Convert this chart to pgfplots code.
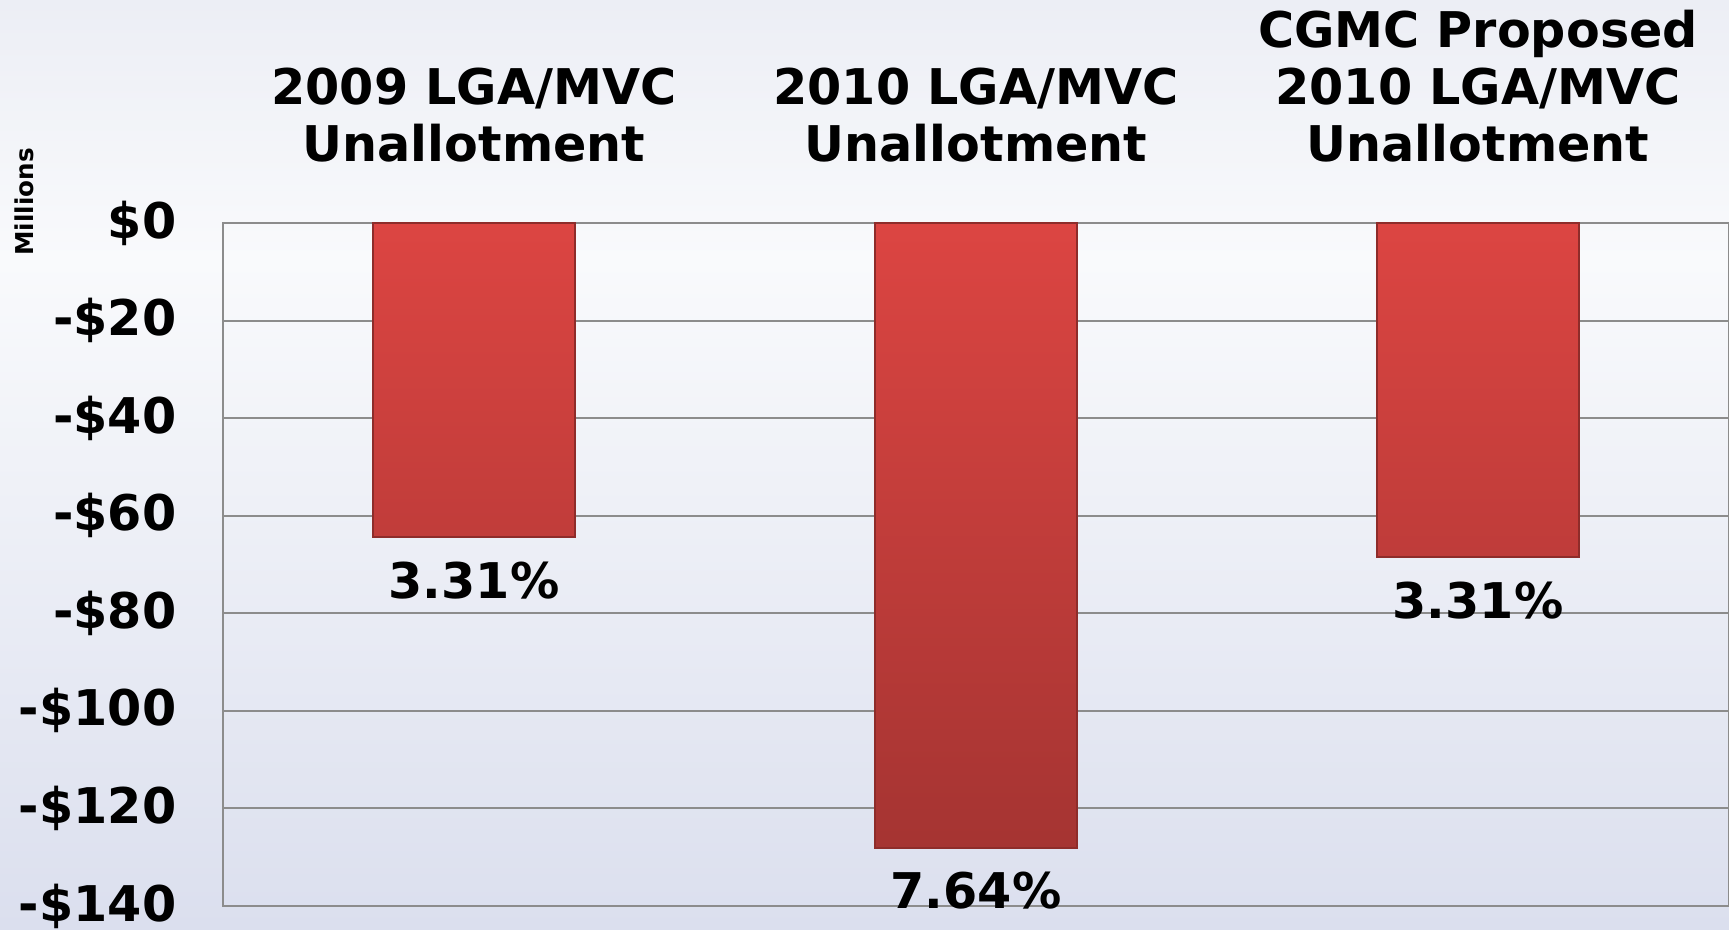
\documentclass[border=0pt]{standalone}
\usepackage{pgfplots}
\pgfplotsset{compat=1.18}
\usepackage{fontspec}
\setmainfont{DejaVu Sans}
\definecolor{bgtop}{HTML}{ECEEF5}
\definecolor{bgmid}{HTML}{F9FAFC}
\definecolor{bgbot}{HTML}{DBDFEE}
\definecolor{bartop}{HTML}{DC4542}
\definecolor{barbot}{HTML}{A53432}
\definecolor{baredge}{HTML}{8E2C2A}
\definecolor{gridgray}{HTML}{8C8C8C}
\pgfdeclareverticalshading{bgshade}{100bp}{color(0bp)=(bgbot); color(25bp)=(bgbot); color(61bp)=(bgmid); color(75bp)=(bgtop); color(100bp)=(bgtop)}
\pgfplotstableread{
x y lab
0 -64.4 3.31\%
1 -128.1 7.64\%
2 -68.5 3.31\%
}\bardata
\begin{document}
\begin{tikzpicture}
\useasboundingbox (0,0) rectangle (172.9mm,92.9mm);
\shade[shading=bgshade] (0,0) rectangle (172.9mm,92.9mm);
\begin{axis}[
  at={(22.3mm,2.3mm)}, anchor=south west,
  scale only axis, width=150.6mm, height=68.3mm,
  xmin=-0.5, xmax=2.5, ymin=-140, ymax=0,
  axis line style={gridgray, line width=0.6pt},
  xtick=\empty,
  ytick={-140,-120,-100,-80,-60,-40,-20,0},
  yticklabels={-\$140,-\$120,-\$100,-\$80,-\$60,-\$40,-\$20,\$0},
  yticklabel style={font=\fontsize{14}{16}\selectfont\bfseries, inner sep=0pt, anchor=east, xshift=-4.6mm},
  major tick length=0pt,
  ymajorgrids, grid style={gridgray, line width=0.6pt},
  clip=false,
  ybar, bar width=20.2mm,
  nodes near coords,
  point meta=explicit symbolic,
  every node near coord/.append style={anchor=base, yshift=-6.1mm, inner sep=0pt, font=\fontsize{14}{16}\selectfont\bfseries, text=black},
]
\addplot[draw=baredge, line width=0.4pt, top color=bartop, bottom color=barbot] table[x=x, y=y, meta=lab] {\bardata};
\node[anchor=south, align=center, inner sep=0pt, font=\fontsize{14}{16.2}\selectfont\bfseries, yshift=6mm] at (axis cs:0,0) {2009 LGA/MVC\\Unallotment};
\node[anchor=south, align=center, inner sep=0pt, font=\fontsize{14}{16.2}\selectfont\bfseries, yshift=6mm] at (axis cs:1,0) {2010 LGA/MVC\\Unallotment};
\node[anchor=south, align=center, inner sep=0pt, font=\fontsize{14}{16.2}\selectfont\bfseries, yshift=6mm] at (axis cs:2,0) {CGMC Proposed\\2010 LGA/MVC\\Unallotment};
\end{axis}
\node[rotate=90, font=\fontsize{7}{8}\selectfont\bfseries, inner sep=0pt] at (2.4mm,72.7mm) {Millions};
\end{tikzpicture}
\end{document}
